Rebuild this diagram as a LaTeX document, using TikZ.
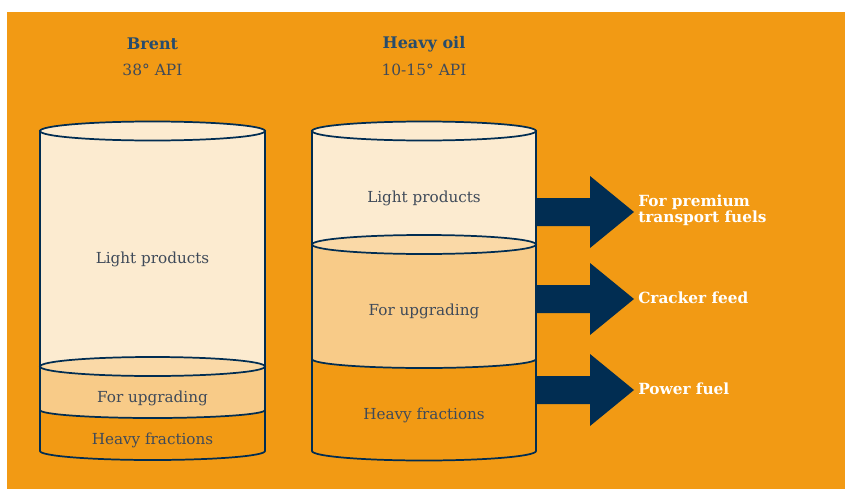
\documentclass[tikz,border=0pt]{standalone}
\usepackage{fontspec}
\setmainfont{DejaVu Serif}
\definecolor{oilOrange}{HTML}{F29A14}
\definecolor{oilCream}{HTML}{FCEBD0}
\definecolor{oilUpg}{HTML}{F8CB88}
\definecolor{oilUpgTop}{HTML}{FAD9A7}
\definecolor{oilNavy}{HTML}{012D52}
\definecolor{oilText}{HTML}{3F4A59}
\begin{document}
\begin{tikzpicture}[
  x=0.75pt, y=-0.75pt,
  tank/.style={draw=oilNavy, line width=1.3pt},
  layer/.style={font=\fontsize{11.4}{13}\selectfont, text=oilText, inner sep=1pt},
  title/.style={font=\fontsize{12}{14}\selectfont\bfseries, text=oilNavy!85!white, inner sep=1pt},
  api/.style={font=\fontsize{11.6}{13}\selectfont, text=oilText, inner sep=1pt},
  outlbl/.style={font=\fontsize{11.5}{12}\selectfont\bfseries, text=white,
                 anchor=west, align=left, inner sep=0pt},
  outarrow/.pic={\fill[oilNavy] (0,14) -- (54,14) -- (54,36) -- (98,0)
                 -- (54,-36) -- (54,-14) -- (0,-14) -- cycle;},
]
\useasboundingbox (0,0) rectangle (845,489);
\fill[white] (0,0) rectangle (845,489);
\fill[oilOrange] (7,12) rectangle (845,489);

% Brent tank
\fill[oilCream, tank] (40,366.5) -- (40,131) -- (265,131) -- (265,366.5);
\filldraw[fill=oilOrange, tank] (40,410) -- (40,451)
  arc[start angle=180, end angle=0, x radius=112.5, y radius=9] -- (265,410);
\filldraw[fill=oilUpg, tank] (40,366.5) -- (40,410)
  arc[start angle=180, end angle=0, x radius=112.5, y radius=8] -- (265,366.5);
\filldraw[fill=oilUpgTop, tank] (152.5,366.5) ellipse[x radius=112.5, y radius=9.5];
\filldraw[fill=oilCream, tank] (152.5,131) ellipse[x radius=112.5, y radius=9.5];

% Heavy oil tank
\fill[oilCream, tank] (312,244.5) -- (312,131) -- (536,131) -- (536,244.5);
\filldraw[fill=oilOrange, tank] (312,359) -- (312,451)
  arc[start angle=180, end angle=0, x radius=112, y radius=9.5] -- (536,359);
\filldraw[fill=oilUpg, tank] (312,244.5) -- (312,359)
  arc[start angle=180, end angle=0, x radius=112, y radius=9] -- (536,244.5);
\filldraw[fill=oilUpgTop, tank] (424,244.5) ellipse[x radius=112, y radius=9.5];
\filldraw[fill=oilCream, tank] (424,131) ellipse[x radius=112, y radius=9.5];

\node[title] (brTitle) at (152.5,44) {Brent};
\node[api]   (brApi)   at (152.5,70) {38° API};
\node[title] (hoTitle) at (424,44)   {Heavy oil};
\node[api]   (hoApi)   at (424,70)   {10-15° API};

\node[layer] (brLight) at (152.5,259) {Light products};
\node[layer] (brUpg)   at (152.5,398) {For upgrading};
\node[layer] (brHeavy) at (152.5,440) {Heavy fractions};
\node[layer] (hoLight) at (424,198)   {Light products};
\node[layer] (hoUpg)   at (424,311)   {For upgrading};
\node[layer] (hoHeavy) at (424,415)   {Heavy fractions};

% outlets
\pic at (536,212) {outarrow};
\pic at (536,299) {outarrow};
\pic at (536,390) {outarrow};
\node[outlbl] (outPremium) at (638,210) {For premium\\transport fuels};
\node[outlbl] (outCracker) at (638,298) {Cracker feed};
\node[outlbl] (outPower)   at (638,389) {Power fuel};
\end{tikzpicture}
\end{document}
